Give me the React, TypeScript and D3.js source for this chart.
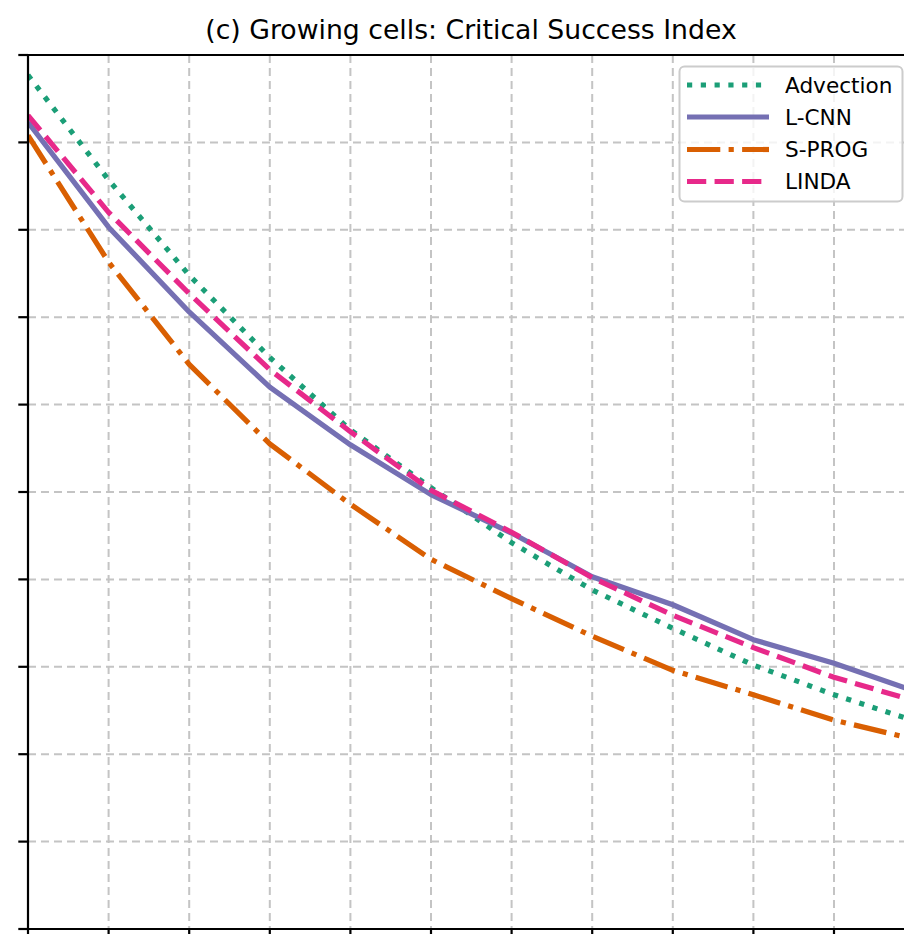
import React from "react";
import * as d3 from "d3";

const leadSteps = [0, 1, 2, 3, 4, 5, 6, 7, 8, 9, 10, 11];
const advection = [0.977, 0.857, 0.748, 0.654, 0.571, 0.505, 0.442, 0.388, 0.344, 0.302, 0.268, 0.238];
const lcnn = [0.923, 0.803, 0.706, 0.62, 0.554, 0.497, 0.453, 0.403, 0.371, 0.331, 0.304, 0.272];
const sprog = [0.908, 0.763, 0.646, 0.555, 0.486, 0.423, 0.378, 0.335, 0.296, 0.268, 0.239, 0.217];
const linda = [0.931, 0.82, 0.727, 0.64, 0.569, 0.502, 0.454, 0.402, 0.359, 0.322, 0.288, 0.261];
const xTicks = [0, 1, 2, 3, 4, 5, 6, 7, 8, 9, 10, 11, 12];
const yTicks = [0, 0.1, 0.2, 0.3, 0.4, 0.5, 0.6, 0.7, 0.8, 0.9, 1.0];
const title = "(c) Growing cells: Critical Success Index";

const LW = 5.2;
const seriesDefs = [
  { name: "Advection", values: advection, color: "#1b9e77", dash: `${LW} ${1.65 * LW}` },
  { name: "L-CNN", values: lcnn, color: "#7570b3", dash: "" },
  { name: "S-PROG", values: sprog, color: "#d95f02", dash: `${6.4 * LW} ${1.6 * LW} ${1 * LW} ${1.6 * LW}` },
  { name: "LINDA", values: linda, color: "#e7298a", dash: `${3.7 * LW} ${1.6 * LW}` },
];

export default function App() {
  const W = 904;
  const H = 934;
  const left = 28;
  const top = 55;
  const bottom = 929;
  const step = 80.6;
  const x = d3.scaleLinear().domain([0, 12]).range([left, left + 12 * step]);
  const y = d3.scaleLinear().domain([0, 1]).range([bottom, top]);
  const line = d3
    .line<number>()
    .x((_, i) => x(leadSteps[i]))
    .y((d) => y(d));
  const font = "'DejaVu Sans', sans-serif";
  const gridColor = "#c4c4c4";

  const legX = 679.5;
  const legY = 66.5;
  const legW = 223;
  const legH = 135;
  const rowY = [85, 117, 149.5, 181.5];

  return (
    <svg
      width={W}
      height={H}
      style={{ position: "absolute", left: 0, top: 0, background: "#fff" }}
    >
      <defs>
        <clipPath id="plotclip">
          <rect x={left} y={top} width={x(12) - left} height={bottom - top} />
        </clipPath>
      </defs>
      <rect x={0} y={0} width={W} height={H} fill="#fff" />
      <text
        x={471}
        y={39}
        textAnchor="middle"
        fontFamily={font}
        fontSize={26.7}
        fill="#000"
      >
        {title}
      </text>
      <g>
        {xTicks.map((t) => (
          <line
            key={"gx" + t}
            x1={x(t)}
            x2={x(t)}
            y1={top}
            y2={bottom}
            stroke={gridColor}
            strokeWidth={2}
            strokeDasharray="8 5"
          />
        ))}
        {yTicks.map((t) => (
          <line
            key={"gy" + t}
            x1={left}
            x2={x(12)}
            y1={y(t)}
            y2={y(t)}
            stroke={gridColor}
            strokeWidth={2}
            strokeDasharray="8 5"
          />
        ))}
      </g>
      <g clipPath="url(#plotclip)">
        {seriesDefs.map((s) => (
          <path
            key={s.name}
            d={line(s.values) || ""}
            fill="none"
            stroke={s.color}
            strokeWidth={LW}
            strokeDasharray={s.dash || undefined}
            strokeLinecap="butt"
            strokeLinejoin="round"
          />
        ))}
      </g>
      <g stroke="#000" strokeWidth={2.2}>
        <line x1={left} x2={left} y1={top - 1.1} y2={bottom + 1.1} />
        <line x1={left - 1.1} x2={x(12)} y1={top} y2={top} />
        <line x1={left - 1.1} x2={x(12)} y1={bottom} y2={bottom} />
        {yTicks.map((t) => (
          <line key={"ty" + t} x1={left - 9.7} x2={left} y1={y(t)} y2={y(t)} />
        ))}
        {xTicks.map((t) => (
          <line key={"tx" + t} x1={x(t)} x2={x(t)} y1={bottom} y2={bottom + 9.7} />
        ))}
      </g>
      <g>
        <rect
          x={legX}
          y={legY}
          width={legW}
          height={legH}
          rx={5}
          ry={5}
          fill="#fff"
          fillOpacity={0.8}
          stroke="#cccccc"
          strokeWidth={2}
        />
        {seriesDefs.map((s, i) => (
          <g key={"leg" + s.name}>
            <line
              x1={687}
              x2={769}
              y1={rowY[i]}
              y2={rowY[i]}
              stroke={s.color}
              strokeWidth={LW}
              strokeDasharray={s.dash || undefined}
            />
            <text
              x={785}
              y={rowY[i]}
              dy="0.36em"
              fontFamily={font}
              fontSize={21.6}
              fill="#000"
            >
              {s.name}
            </text>
          </g>
        ))}
      </g>
    </svg>
  );
}
